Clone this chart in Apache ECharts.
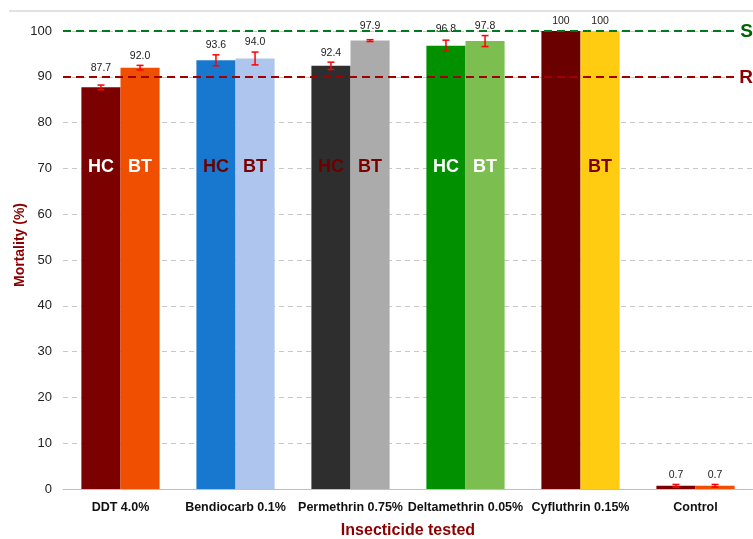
<!DOCTYPE html>
<html>
<head>
<meta charset="utf-8">
<script src="https://cdn.jsdelivr.net/npm/echarts@6/dist/echarts.min.js"></script>
<style>html,body{margin:0;padding:0;background:#fff}#c{width:753px;height:539px}</style>
</head>
<body>
<div id="c"></div>
<script>
const categories = ['DDT 4.0%', 'Bendiocarb 0.1%', 'Permethrin 0.75%', 'Deltamethrin 0.05%', 'Cyfluthrin 0.15%', 'Control'];
const hcValues = [87.7, 93.6, 92.4, 96.8, 100, 0.7];
const btValues = [92.0, 94.0, 97.9, 97.8, 100, 0.7];
const hcErrors = [0.5, 1.2, 0.8, 1.2, 0, 0.3];
const btErrors = [0.5, 1.4, 0.2, 1.2, 0, 0.3];
const hcLabels = ['87.7', '93.6', '92.4', '96.8', '100', '0.7'];
const btLabels = ['92.0', '94.0', '97.9', '97.8', '100', '0.7'];
const susceptibleThreshold = 100;
const resistantThreshold = 90;

const FONT = "'Liberation Sans Narrow', 'Liberation Sans', Arial, sans-serif";
const hcColors = ['#7B0000', '#1878D0', '#2E2E2E', '#009000', '#6B0000', '#7B0000'];
const btColors = ['#F04E00', '#AEC6EE', '#ABABAB', '#7CBF50', '#FFCC11', '#F04E00'];
const hcInnerColor = ['#ffffff', '#6B0000', '#6B0000', '#ffffff', '#6B0000', null];
const btInnerColor = ['#ffffff', '#7B0000', '#7B0000', '#ffffff', '#7B0000', null];
const hcLabelLift = [7, 0, 0, 2, 0, 0];
const btLabelLift = [0, 0, 4, 0, 0, 0];
const innerLevel = 70.3;
const PX_PER_UNIT = 4.58;
const BAR_FRAC = 0.34;

function barData(values, errors, labels, colors, lift) {
  return values.map((v, i) => ({
    value: v,
    itemStyle: { color: colors[i] },
    label: {
      show: true,
      position: 'top',
      distance: 4 + errors[i] * PX_PER_UNIT + lift[i],
      formatter: labels[i],
      fontSize: 10.5,
      color: '#222',
      fontFamily: FONT
    }
  }));
}

function innerData(values, innerColors, tag) {
  return values.map((v, i) => {
    if (!innerColors[i]) return { value: v, label: { show: false } };
    return {
      value: v,
      label: {
        show: true,
        position: ['50%', ((v - innerLevel) / v * 100) + '%'],
        align: 'center',
        verticalAlign: 'middle',
        formatter: tag,
        color: innerColors[i],
        fontSize: 18,
        fontWeight: 'bold',
        fontFamily: FONT
      }
    };
  });
}

function errorSeries(values, errors, sign) {
  return {
    type: 'custom',
    z: 10,
    silent: true,
    data: values.map((v, i) => [i, v, errors[i]]),
    encode: { x: 0, y: 1 },
    renderItem: function (params, api) {
      const idx = api.value(0), v = api.value(1), e = api.value(2);
      if (!e) return null;
      const band = api.size([1, 0])[0];
      const off = sign * band * BAR_FRAC / 2;
      const top = api.coord([idx, v + e]);
      const bot = api.coord([idx, v - e]);
      const x = top[0] + off;
      const cap = 3.5;
      const st = { stroke: '#FF0000', lineWidth: 1.5 };
      return {
        type: 'group',
        children: [
          { type: 'line', shape: { x1: x, y1: top[1], x2: x, y2: bot[1] }, style: st },
          { type: 'line', shape: { x1: x - cap, y1: top[1], x2: x + cap, y2: top[1] }, style: st },
          { type: 'line', shape: { x1: x - cap, y1: bot[1], x2: x + cap, y2: bot[1] }, style: st }
        ]
      };
    }
  };
}

const chart = echarts.init(document.getElementById('c'));
chart.setOption({
  animation: false,
  backgroundColor: '#fff',
  graphic: [{
    type: 'line', shape: { x1: 9, y1: 11, x2: 753, y2: 11 },
    style: { stroke: '#c4c4c4', lineWidth: 1 }
  }],
  grid: { left: 63, right: 0, top: 31, bottom: 50, containLabel: false, outerBoundsMode: 'none' },
  xAxis: [{
    type: 'category',
    data: categories,
    axisTick: { show: false },
    axisLine: { lineStyle: { color: '#bfbfbf', width: 1 } },
    axisLabel: { color: '#111', fontSize: 12.5, fontWeight: 'bold', fontFamily: FONT, margin: 12, interval: 0 },
    name: 'Insecticide tested',
    nameLocation: 'middle',
    nameGap: 34,
    nameMoveOverlap: false,
    nameTextStyle: { color: '#8B0000', fontSize: 16, fontWeight: 'bold', fontFamily: FONT }
  }, {
    type: 'category',
    data: categories,
    position: 'bottom',
    show: false
  }],
  yAxis: {
    type: 'value',
    min: 0, max: 100, interval: 10,
    axisLine: { show: false },
    axisTick: { show: false },
    axisLabel: { color: '#222', fontSize: 13, fontFamily: FONT, margin: 11 },
    splitLine: { lineStyle: { color: '#c8c8c8', type: [5, 4], width: 1 } },
    name: 'Mortality (%)',
    nameLocation: 'middle',
    nameGap: 36,
    nameMoveOverlap: false,
    nameTextStyle: { color: '#8B0000', fontSize: 14, fontWeight: 'bold', fontFamily: FONT, padding: [0, 0, 0, 30] }
  },
  series: [
    {
      name: 'HC', type: 'bar', xAxisIndex: 0, barWidth: (BAR_FRAC * 100) + '%', barGap: '0%',
      data: barData(hcValues, hcErrors, hcLabels, hcColors, hcLabelLift),
      markLine: {
        symbol: 'none', silent: true, z: 8,
        data: [
          { yAxis: susceptibleThreshold, lineStyle: { color: '#007A1E', type: [8, 5], width: 2 },
            label: { formatter: 'S', position: 'insideEndTop', distance: 0, offset: [0, 10], color: '#006400', fontSize: 19, fontWeight: 'bold', fontFamily: FONT, backgroundColor: '#fff', padding: [0, 0, 0, 2] } },
          { yAxis: resistantThreshold, lineStyle: { color: '#A00000', type: [8, 5], width: 2 },
            label: { formatter: 'R', position: 'insideEndTop', distance: 0, offset: [0, 10], color: '#8B0000', fontSize: 19, fontWeight: 'bold', fontFamily: FONT, backgroundColor: '#fff', padding: [0, 0, 0, 2] } }
        ]
      }
    },
    {
      name: 'BT', type: 'bar', xAxisIndex: 0, barWidth: (BAR_FRAC * 100) + '%', barGap: '0%',
      data: barData(btValues, btErrors, btLabels, btColors, btLabelLift)
    },
    {
      name: 'HC-tag', type: 'bar', xAxisIndex: 1, barWidth: (BAR_FRAC * 100) + '%', barGap: '0%', z: 5, silent: true,
      itemStyle: { color: 'rgba(0,0,0,0)' },
      data: innerData(hcValues, hcInnerColor, 'HC')
    },
    {
      name: 'BT-tag', type: 'bar', xAxisIndex: 1, barWidth: (BAR_FRAC * 100) + '%', barGap: '0%', z: 5, silent: true,
      itemStyle: { color: 'rgba(0,0,0,0)' },
      data: innerData(btValues, btInnerColor, 'BT')
    },
    errorSeries(hcValues, hcErrors, -1),
    errorSeries(btValues, btErrors, 1)
  ]
});
</script>
</body>
</html>
